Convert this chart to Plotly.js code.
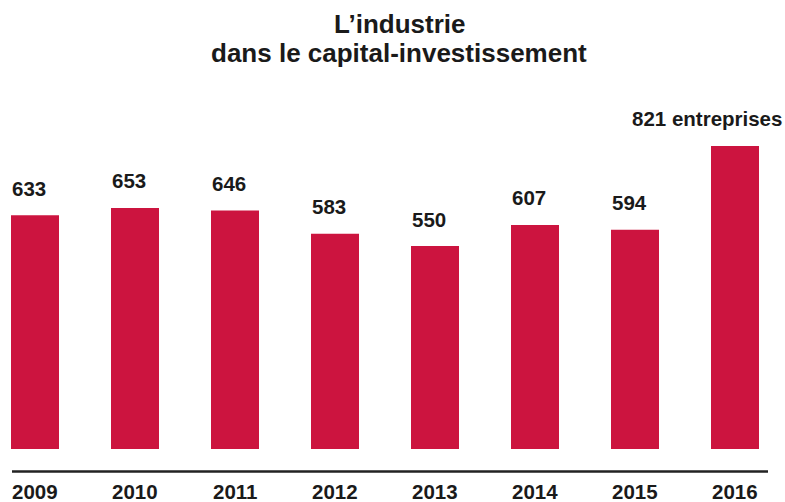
<!DOCTYPE html>
<html>
<head>
<meta charset="utf-8">
<script src="https://cdn.plot.ly/plotly-3.0.1.min.js"></script>
<style>html,body{margin:0;padding:0;background:#fff}#chart{width:785px;height:502px}</style>
</head>
<body>
<div id="chart"></div>
<script>
const years = ['2009','2010','2011','2012','2013','2014','2015','2016'];
const values = [633, 653, 646, 583, 550, 607, 594, 821];
const valueLabels = ['633','653','646','583','550','607','594','821 entreprises'];
const titleLines = ['L’industrie', 'dans le capital-investissement'];

const BAR = '#cc143f';
const TXT = '#1a1a1a';
const FONT = 'Liberation Sans, Arial, sans-serif';

const annotations = [];
values.forEach(function (v, i) {
  const last = i === values.length - 1;
  annotations.push({
    x: i, y: v, xref: 'x', yref: 'y',
    text: '<b>' + valueLabels[i] + '</b>', showarrow: false,
    xanchor: last ? 'center' : 'left', xshift: last ? -28 : -25,
    yanchor: 'middle', yshift: 27,
    font: {family: FONT, size: 20.5, color: TXT}
  });
  annotations.push({
    x: i, y: -0.123, xref: 'x', yref: 'paper',
    text: '<b>' + years[i] + '</b>', showarrow: false,
    xanchor: 'center', yanchor: 'middle',
    font: {family: FONT, size: 20.5, color: TXT}
  });
});
annotations.push({
  x: 399/785, y: (449 - 24)/349, xref: 'paper', yref: 'paper',
  text: '<b>' + titleLines[0] + '</b>', showarrow: false,
  xanchor: 'center', yanchor: 'middle',
  font: {family: FONT, size: 26, color: TXT}
});
annotations.push({
  x: 399/785, y: (449 - 53)/349, xref: 'paper', yref: 'paper',
  text: '<b>' + titleLines[1] + '</b>', showarrow: false,
  xanchor: 'center', yanchor: 'middle',
  font: {family: FONT, size: 26, color: TXT}
});

const layout = {
  width: 785, height: 502,
  margin: {l: 0, r: 0, t: 100, b: 53},
  paper_bgcolor: '#fff', plot_bgcolor: '#fff',
  showlegend: false,
  bargap: 0.52,
  xaxis: {type: 'category', range: [-0.35, 7.5], showgrid: false, zeroline: false,
          showline: false, showticklabels: false, ticks: ''},
  yaxis: {range: [0, 945.6], showgrid: false, zeroline: false, showline: false,
          showticklabels: false, ticks: ''},
  shapes: [{
    type: 'line', xref: 'paper', yref: 'paper',
    x0: 12/785, x1: 768/785, y0: -0.0645, y1: -0.0645,
    line: {color: '#222', width: 2.5}
  }],
  annotations: annotations
};

Plotly.newPlot('chart', [{
  type: 'bar', x: years, y: values,
  marker: {color: BAR}, hoverinfo: 'x+y'
}], layout, {displayModeBar: false});
</script>
</body>
</html>
